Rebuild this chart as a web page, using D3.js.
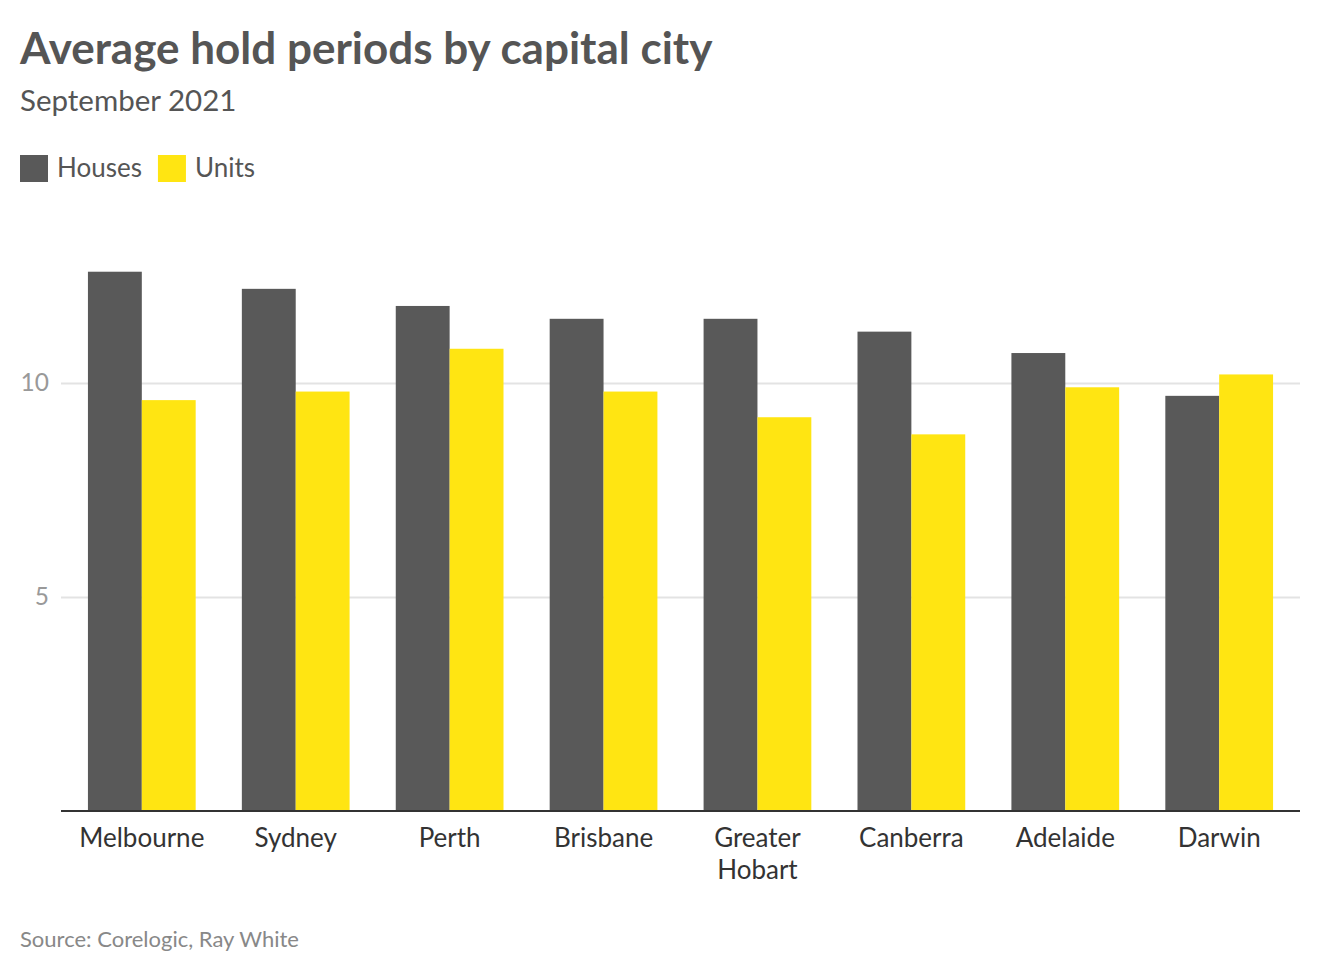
<!DOCTYPE html>
<html>
<head>
<meta charset="utf-8">
<script src="https://cdn.jsdelivr.net/npm/d3@7"></script>
<style>
  body { margin: 0; background: #fff; font-family: Lato, sans-serif; }
</style>
</head>
<body>
<script>
var cities = ["Melbourne", "Sydney", "Perth", "Brisbane", "Greater Hobart", "Canberra", "Adelaide", "Darwin"];
var houses = [12.6, 12.2, 11.8, 11.5, 11.5, 11.2, 10.7, 9.7];
var units = [9.6, 9.8, 10.8, 9.8, 9.2, 8.8, 9.9, 10.2];
var series = ["Houses", "Units"];
var colors = ["#595959", "#ffe512"];
var yTicks = [5, 10];

function init() {
    var w = 1320;
    var h = 972;
    var left = 61, right = 1300, bottom = 811;

    var svg = d3.select("body").append("svg").attr("width", w).attr("height", h);

    // title block
    svg.append("text").attr("x", 20).attr("y", 64)
        .attr("font-size", 44).attr("font-weight", 700).attr("fill", "#555")
        .text("Average hold periods by capital city");
    svg.append("text").attr("x", 20).attr("y", 111)
        .attr("font-size", 29.5).attr("fill", "#555")
        .text("September 2021");

    // legend
    var lx = 20;
    series.forEach(function (s, i) {
        svg.append("rect").attr("x", lx).attr("y", 155).attr("width", 28).attr("height", 27).attr("fill", colors[i]);
        var t = svg.append("text").attr("x", lx + 37).attr("y", 177)
            .attr("font-size", 26).attr("fill", "#555").text(s);
        lx += 37 + t.node().getComputedTextLength() + 16;
    });

    var x0 = d3.scaleBand().domain(cities).range([left, right]).paddingInner(0.3).paddingOuter(0.175);
    var x1 = d3.scaleBand().domain(series).range([0, x0.bandwidth()]);
    var y = d3.scaleLinear().domain([0, 10]).range([bottom, bottom - 428]);

    // grid
    var yAxis = d3.axisLeft(y).tickValues(yTicks).tickSize(-(right - left)).tickPadding(12);
    var gy = svg.append("g").attr("transform", "translate(" + left + ",0)").call(yAxis);
    gy.select(".domain").remove();
    gy.selectAll(".tick line").attr("stroke", "#e3e3e3").attr("stroke-width", 2);
    gy.selectAll(".tick text").attr("font-family", "Lato, sans-serif").attr("font-size", 24.5).attr("fill", "#999");

    var data = cities.map(function (c, i) { return { city: c, vals: [houses[i], units[i]] }; });

    var groups = svg.selectAll("g.city").data(data).enter().append("g")
        .attr("class", "city")
        .attr("transform", function (d) { return "translate(" + x0(d.city) + ",0)"; });

    groups.selectAll("rect").data(function (d) { return d.vals; }).enter().append("rect")
        .attr("x", function (d, i) { return x1(series[i]); })
        .attr("width", x1.bandwidth())
        .attr("y", function (d) { return y(d); })
        .attr("height", function (d) { return bottom - y(d); })
        .attr("fill", function (d, i) { return colors[i]; });

    // baseline
    svg.append("line").attr("x1", left).attr("x2", right).attr("y1", bottom).attr("y2", bottom)
        .attr("stroke", "#333").attr("stroke-width", 2);

    // category labels
    var xAxis = d3.axisBottom(x0).tickSize(0).tickPadding(0);
    var gx = svg.append("g").attr("transform", "translate(0," + bottom + ")").call(xAxis);
    gx.select(".domain").remove();
    gx.selectAll(".tick text").remove();
    gx.selectAll(".tick").each(function (d) {
        var words = d === "Greater Hobart" ? ["Greater", "Hobart"] : [d];
        var t = d3.select(this).append("text")
            .attr("text-anchor", "middle").attr("font-family", "Lato, sans-serif")
            .attr("font-size", 26).attr("fill", "#333");
        words.forEach(function (wd, i) {
            t.append("tspan").attr("x", 0).attr("y", 36 + i * 32).text(wd);
        });
    });

    svg.append("text").attr("x", 20).attr("y", 947)
        .attr("font-size", 22).attr("fill", "#888")
        .text("Source: Corelogic, Ray White");
}

window.onload = init;
</script>
</body>
</html>
